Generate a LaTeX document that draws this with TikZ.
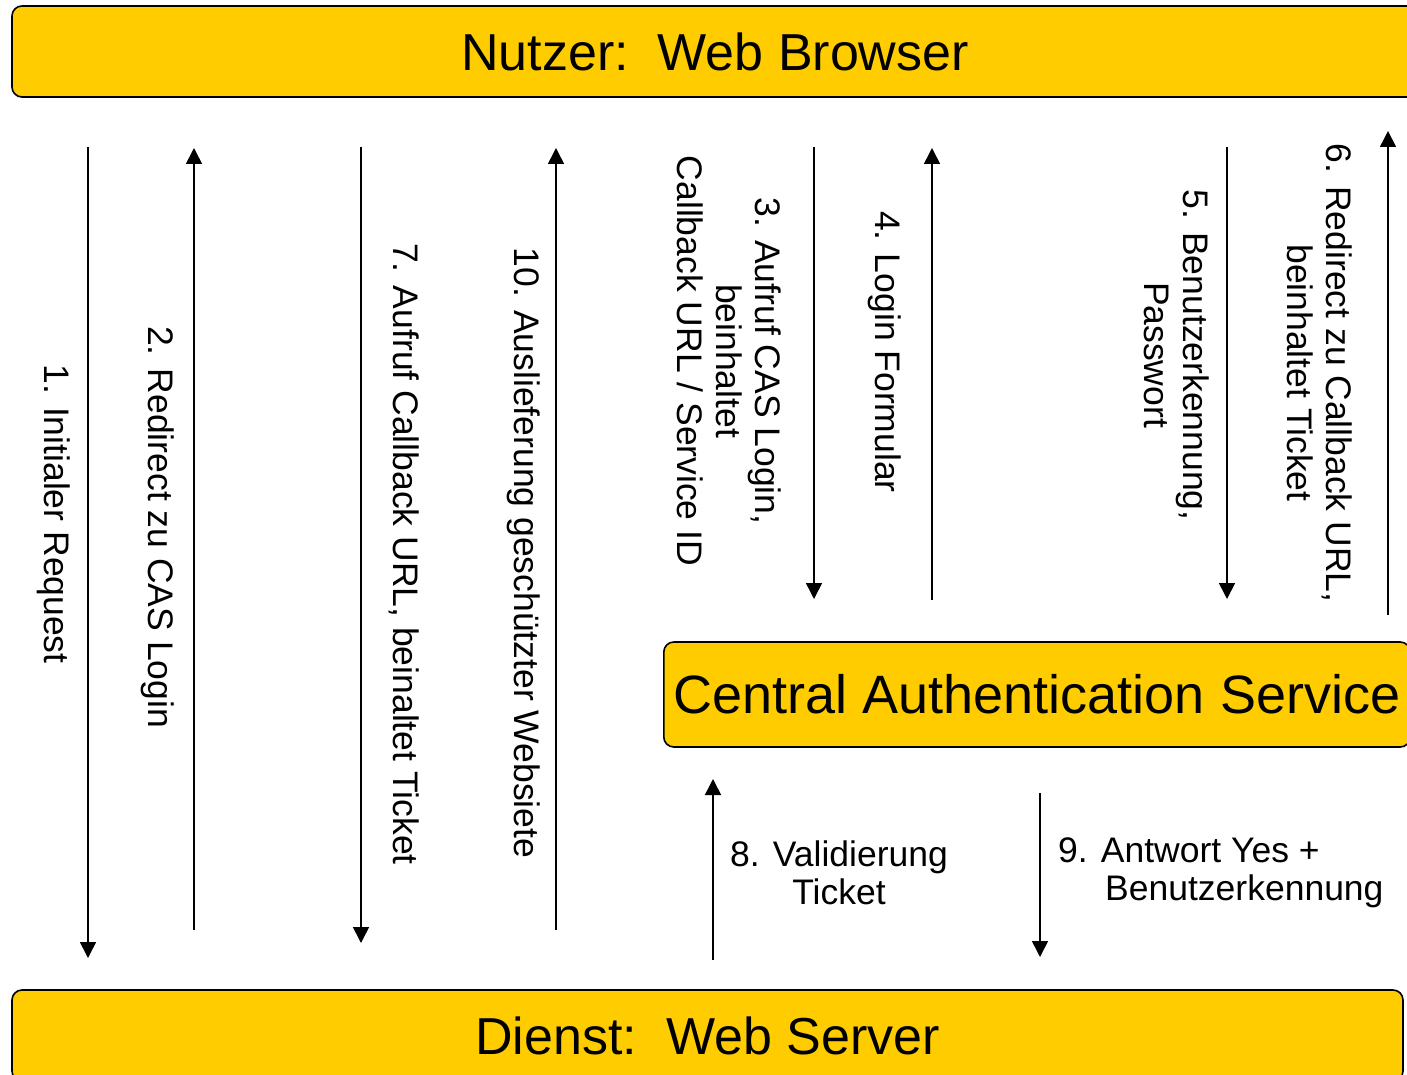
\documentclass[tikz,border=0pt]{standalone}
\usepackage{fontspec}
\setmainfont{Liberation Sans}
\usepackage{tikz}
\usepackage{xcolor}
\usetikzlibrary{arrows.meta, positioning, calc}
\definecolor{casyellow}{RGB}{255,204,0}

\begin{document}
\begin{tikzpicture}[
    x=1pt, y=-1pt, % pixel-like coordinates, y downwards
    party/.style={
        rectangle, 
        draw=black, 
        line width=1.6pt,
        fill=casyellow, 
        rounded corners=10pt, 
        minimum height=91pt,
        inner sep=0pt,
        font=\fontsize{52}{60}\selectfont
    },
    msg/.style={line width=1.6pt, -{Triangle[width=16pt,length=16pt]}},
    vlabel/.style={rotate=-90, align=center, inner sep=0pt, font=\fontsize{35.5}{39}\selectfont},
    hlabel/.style={align=center, inner sep=0pt, font=\fontsize{35.5}{38}\selectfont}
]
\useasboundingbox (0,0) rectangle (1407,1075);

% ========== Beteiligte ==========
\node[party, minimum width=1406pt] (browser) at (715,51.5) {Nutzer:\ \ Web Browser};
\node[party, minimum width=1391pt] (server) at (707.5,1035.5) {Dienst:\ \ Web Server};
\node[party, anchor=west, minimum height=105pt, inner xsep=10pt,
      font=\fontsize{54}{60}\selectfont] (cas) at (663,694.5) {Central Authentication Service};

% ========== Endpunkte der Nachrichten ==========
\coordinate (m1a) at (88,147);   \coordinate (m1b) at (88,958);
\coordinate (m2a) at (194,930);  \coordinate (m2b) at (194,148);
\coordinate (m7a) at (361,147);  \coordinate (m7b) at (361,943);
\coordinate (m10a) at (556,930); \coordinate (m10b) at (556,148);
\coordinate (m3a) at (814,147);  \coordinate (m3b) at (814,599);
\coordinate (m4a) at (932,600);  \coordinate (m4b) at (932,148);
\coordinate (m5a) at (1227,147); \coordinate (m5b) at (1227,599);
\coordinate (m6a) at (1388,615); \coordinate (m6b) at (1388,131);
\coordinate (m8a) at (713,960);  \coordinate (m8b) at (713,779);
\coordinate (m9a) at (1040,793); \coordinate (m9b) at (1040,957);

% ========== Pfeile ==========
\draw[msg] (m1a) -- (m1b);
\draw[msg] (m2a) -- (m2b);
\draw[msg] (m7a) -- (m7b);
\draw[msg] (m10a) -- (m10b);
\draw[msg] (m3a) -- (m3b);
\draw[msg] (m4a) -- (m4b);
\draw[msg] (m5a) -- (m5b);
\draw[msg] (m6a) -- (m6b);
\draw[msg] (m8a) -- (m8b);
\draw[msg] (m9a) -- (m9b);

% ========== Beschriftungen ==========
\node[vlabel] (l1) at (54,514) {1. Initialer Request};
\node[vlabel] (l2) at (158,527) {2. Redirect zu CAS Login};
\node[vlabel] (l3) at (729,361) {3. Aufruf CAS Login,\\beinhaltet\\Callback URL / Service ID};
\node[vlabel] (l4) at (885,352) {4. Login Formular};
\node[vlabel] (l5) at (1177,355) {5. Benutzerkennung,\\Passwort};
\node[vlabel] (l6) at (1320,373) {6. Redirect zu Callback URL,\\beinhaltet Ticket};
\node[vlabel] (l7) at (404,554) {7. Aufruf Callback URL, beinaltet Ticket};
\node[hlabel] (l8) at (839,873) {8. Validierung\\Ticket};
\node[hlabel, align=left, anchor=west] (l9) at (1058,873) {9. Antwort Yes +\\\hspace*{47pt}Benutzerkennung};
\node[vlabel] (l10) at (524,553) {10. Auslieferung geschützter Websiete};

\end{tikzpicture}
\end{document}
